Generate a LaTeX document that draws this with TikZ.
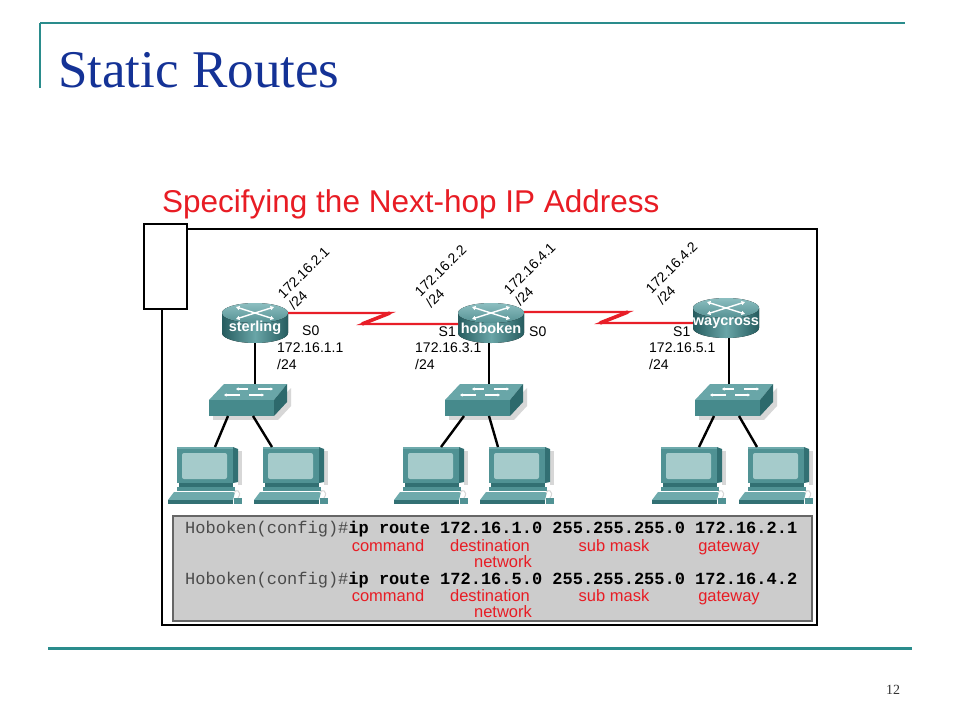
\documentclass[tikz,border=0pt]{standalone}
\usepackage{fontspec}
\setmainfont{Liberation Serif}
\newfontfamily\arialf{Liberation Sans}
\newfontfamily\monof{Liberation Mono}
\usetikzlibrary{arrows.meta}
\definecolor{teal1}{RGB}{42,140,140}
\definecolor{titleblue}{RGB}{20,50,150}
\definecolor{redt}{RGB}{232,28,36}
\definecolor{linkred}{RGB}{232,30,40}
\definecolor{rtopL}{RGB}{140,190,192}
\definecolor{rtopD}{RGB}{85,145,147}
\definecolor{rbodyL}{RGB}{105,165,167}
\definecolor{rbodyD}{RGB}{38,92,95}
\definecolor{swtop}{RGB}{105,166,168}
\definecolor{swfront}{RGB}{70,138,140}
\definecolor{swside}{RGB}{45,105,108}
\definecolor{pcmid}{RGB}{80,146,148}
\definecolor{pcdark}{RGB}{50,112,115}
\definecolor{pclight}{RGB}{110,170,172}
\definecolor{pcscreen}{RGB}{165,203,203}
\definecolor{shadowc}{RGB}{215,215,215}
\definecolor{boxgray}{RGB}{204,204,204}
\definecolor{cmdgray}{RGB}{75,75,75}
\tikzset{
 devbox/.style={inner sep=0pt, outer sep=0pt},
 rlabel/.style={devbox, minimum width=66pt, minimum height=30pt, text=white, font=\arialf\bfseries\fontsize{14.5}{16}\selectfont},
 iplbl/.style={inner sep=0pt, font=\arialf\fontsize{14}{15.5}\selectfont},
 redlink/.style={draw=linkred, line width=2.2pt},
 bolt/.style={draw=linkred, line width=3.6pt},
 blackwire/.style={draw=black, line width=2.4pt},
 cmdtext/.style={inner sep=0pt, anchor=base west, font=\monof\fontsize{17}{20}\selectfont},
 redlbl/.style={inner sep=0pt, anchor=base, text=redt, font=\arialf\fontsize{16.5}{18}\selectfont},
 warrow/.style={draw=white, line width=1.4pt, {Triangle[length=3.5pt,width=4pt]}-{Triangle[length=3.5pt,width=4pt]}},
 swarrow/.style={draw=white, line width=1.1pt, -{Triangle[length=2.5pt,width=3pt]}},
}
\newcommand\myrouter[4]{%
 \begin{scope}[shift={(#2,#3)}]
  \fill[left color=rbodyD, right color=rbodyD, middle color=rbodyL] (-33,0) -- (-33,20) arc[start angle=180,end angle=0,x radius=33,y radius=10] -- (33,0) -- cycle;
  \fill[top color=rtopL, bottom color=rtopD] (0,0) ellipse[x radius=33, y radius=10];
  \draw[warrow] (-19,-6) -- (19,6);
  \draw[warrow] (-19,6) -- (19,-6);
 \end{scope}
 \node[rlabel] (#1) at (#2,#3+15) {#4};
}
\newcommand\myswitch[2]{%
 \begin{scope}[shift={(#2,400)}]
  \fill[shadowc] (4,4) rectangle (69,20);
  \fill[shadowc] (67,4) -- (82,-12) -- (82,6) -- (69,20) -- cycle;
  \fill[swtop] (0,0) -- (65,0) -- (78,-16) -- (15,-16) -- cycle;
  \fill[swfront] (0,0) rectangle (65,16);
  \fill[swside] (65,0) -- (78,-16) -- (78,2) -- (65,16) -- cycle;
  \draw[swarrow] (39,-11) -- (27,-11);
  \draw[swarrow] (49,-11) -- (64,-11);
  \draw[swarrow] (31,-5) -- (15,-5);
  \draw[swarrow] (40,-5) -- (55,-5);
 \end{scope}
 \node[devbox, minimum width=78pt, minimum height=32pt] (#1) at (#2+39,400) {};
}
\newcommand\mypc[2]{%
 \begin{scope}[shift={(#2,447)}]
  \fill[shadowc] (61,4) rectangle (65,38);
  \fill[pcdark] (56,0) -- (61,2) -- (61,35) -- (56,36) -- cycle;
  \fill[pcmid] (0,0) rectangle (56,36);
  \fill[pclight] (0,0) rectangle (56,2);
  \fill[pcscreen, rounded corners=2pt] (5,6) rectangle (50,32);
  \fill[pcdark] (2,36) rectangle (56,40);
  \fill[pcmid] (0,40) rectangle (58,44);
  \fill[pclight] (-3,45) -- (58,45) -- (56,53) -- (-9,53) -- cycle;
  \fill[pcdark] (-9,53) rectangle (56,57);
  \draw[shadowc, line width=1pt] (61,51) .. controls (66,44) and (58,41) .. (57,46);
  \fill[pcmid] (57,51) rectangle (65,57);
 \end{scope}
 \node[devbox, minimum width=61pt, minimum height=57pt] (#1) at (#2+30.5,475.5) {};
}
\begin{document}
\begin{tikzpicture}[x=1pt, y=-1pt]
\useasboundingbox (0,0) rectangle (960,720);
\fill[white] (0,0) rectangle (960,720);
% slide decoration
\draw[teal1, line width=2.5pt] (40,23) -- (905,23);
\draw[teal1, line width=1.5pt] (40,23) -- (40,88);
\draw[teal1, line width=3pt] (48,648) -- (912,648);
\node[font=\fontsize{53}{60}\selectfont, text=titleblue, anchor=base west, inner sep=0pt] (title) at (58,87) {Static Routes};
\node[font=\fontsize{14}{16}\selectfont, text=black!80, inner sep=0pt] (pagenum) at (893,690) {12};
\node[font=\arialf\fontsize{31.5}{36}\selectfont, text=redt, anchor=base west, inner sep=0pt] (subtitle) at (162,212) {Specifying the Next-hop IP Address};
% frame
\draw[black, line width=2.5pt] (162,229) rectangle (817,625);
\draw[black, line width=2.5pt, fill=white] (144,224) rectangle (187,309);
\draw[draw=black!60, line width=1.2pt, fill=boxgray] (173,516) rectangle (812,621);
% zigzag corner points
\coordinate (z1a) at (390,313);
\coordinate (z1b) at (362,324);
\coordinate (z2a) at (628,312);
\coordinate (z2b) at (600,323);
% switches
\myswitch{SW1}{209}
\myswitch{SW2}{445}
\myswitch{SW3}{695}
% PCs
\mypc{PC1}{177}
\mypc{PC2}{263}
\mypc{PC3}{403}
\mypc{PC4}{489}
\mypc{PC5}{661}
\mypc{PC6}{748}
% wires switch -> pcs
\draw[blackwire] ([xshift=19pt]SW1.south west) -- ([xshift=38pt]PC1.north west);
\draw[blackwire] ([xshift=44pt]SW1.south west) -- ([xshift=9pt]PC2.north west);
\draw[blackwire] ([xshift=19pt]SW2.south west) -- ([xshift=38pt]PC3.north west);
\draw[blackwire] ([xshift=44pt]SW2.south west) -- ([xshift=9pt]PC4.north west);
\draw[blackwire] ([xshift=19pt]SW3.south west) -- ([xshift=38pt]PC5.north west);
\draw[blackwire] ([xshift=44pt]SW3.south west) -- ([xshift=9pt]PC6.north west);
% routers
\myrouter{R1}{255}{313}{sterling}
\myrouter{R2}{491}{313}{hoboken}
\myrouter{R3}{726}{308}{waycross}
% serial links and router-switch wires
\draw[redlink] ([yshift=15pt]R1.east) -- (z1a) -- (z1b) -- ([yshift=4pt]R2.west);
\draw[bolt] (z1a) -- (z1b);
\draw[redlink] ([yshift=16pt]R2.east) -- (z2a) -- (z2b) -- (R3.west);
\draw[bolt] (z2a) -- (z2b);
\draw[blackwire] (R1.south) -- (R1.south |- SW1.north);
\draw[blackwire] ([xshift=-2pt]R2.south) -- ([xshift=-2pt]R2.south |- SW2.north);
\draw[blackwire] ([xshift=3pt]R3.south) -- ([xshift=3pt]R3.south |- SW3.north);
% interface labels
\node[iplbl, anchor=west] (s0a) at (302,331) {S0};
\node[iplbl, anchor=west] (ip11) at (277,348) {172.16.1.1};
\node[iplbl, anchor=west] (m11) at (277,364) {/24};
\node[iplbl, anchor=east] (s1b) at (456,332) {S1};
\node[iplbl, anchor=west] (s0b) at (529,332) {S0};
\node[iplbl, anchor=west] (ip31) at (415,348) {172.16.3.1};
\node[iplbl, anchor=west] (m31) at (415,364) {/24};
\node[iplbl, anchor=west] (s1c) at (673,332) {S1};
\node[iplbl, anchor=west] (ip51) at (649,348) {172.16.5.1};
\node[iplbl, anchor=west] (m51) at (649,364) {/24};
\node[iplbl, rotate=45, align=left] (ip21) at (309,278) {172.16.2.1\\/24};
\node[iplbl, rotate=45, align=left] (ip22) at (446,276) {172.16.2.2\\/24};
\node[iplbl, rotate=45, align=left] (ip41) at (535,274) {172.16.4.1\\/24};
\node[iplbl, rotate=45, align=left] (ip42) at (677,273) {172.16.4.2\\/24};
% commands
\node[cmdtext] (cmd1) at (185,533.5) {\textcolor{cmdgray}{Hoboken(config)\#}\textbf{ip route 172.16.1.0 255.255.255.0 172.16.2.1}};
\node[redlbl] (c1) at (388,551) {command};
\node[redlbl] (d1) at (490,551) {destination};
\node[redlbl] (n1) at (503,567) {network};
\node[redlbl] (sm1) at (614,551) {sub mask};
\node[redlbl] (g1) at (729,551) {gateway};
\node[cmdtext] (cmd2) at (185,584.5) {\textcolor{cmdgray}{Hoboken(config)\#}\textbf{ip route 172.16.5.0 255.255.255.0 172.16.4.2}};
\node[redlbl] (c2) at (388,601) {command};
\node[redlbl] (d2) at (490,601) {destination};
\node[redlbl] (n2) at (503,617) {network};
\node[redlbl] (sm2) at (614,601) {sub mask};
\node[redlbl] (g2) at (729,601) {gateway};
\end{tikzpicture}
\end{document}
